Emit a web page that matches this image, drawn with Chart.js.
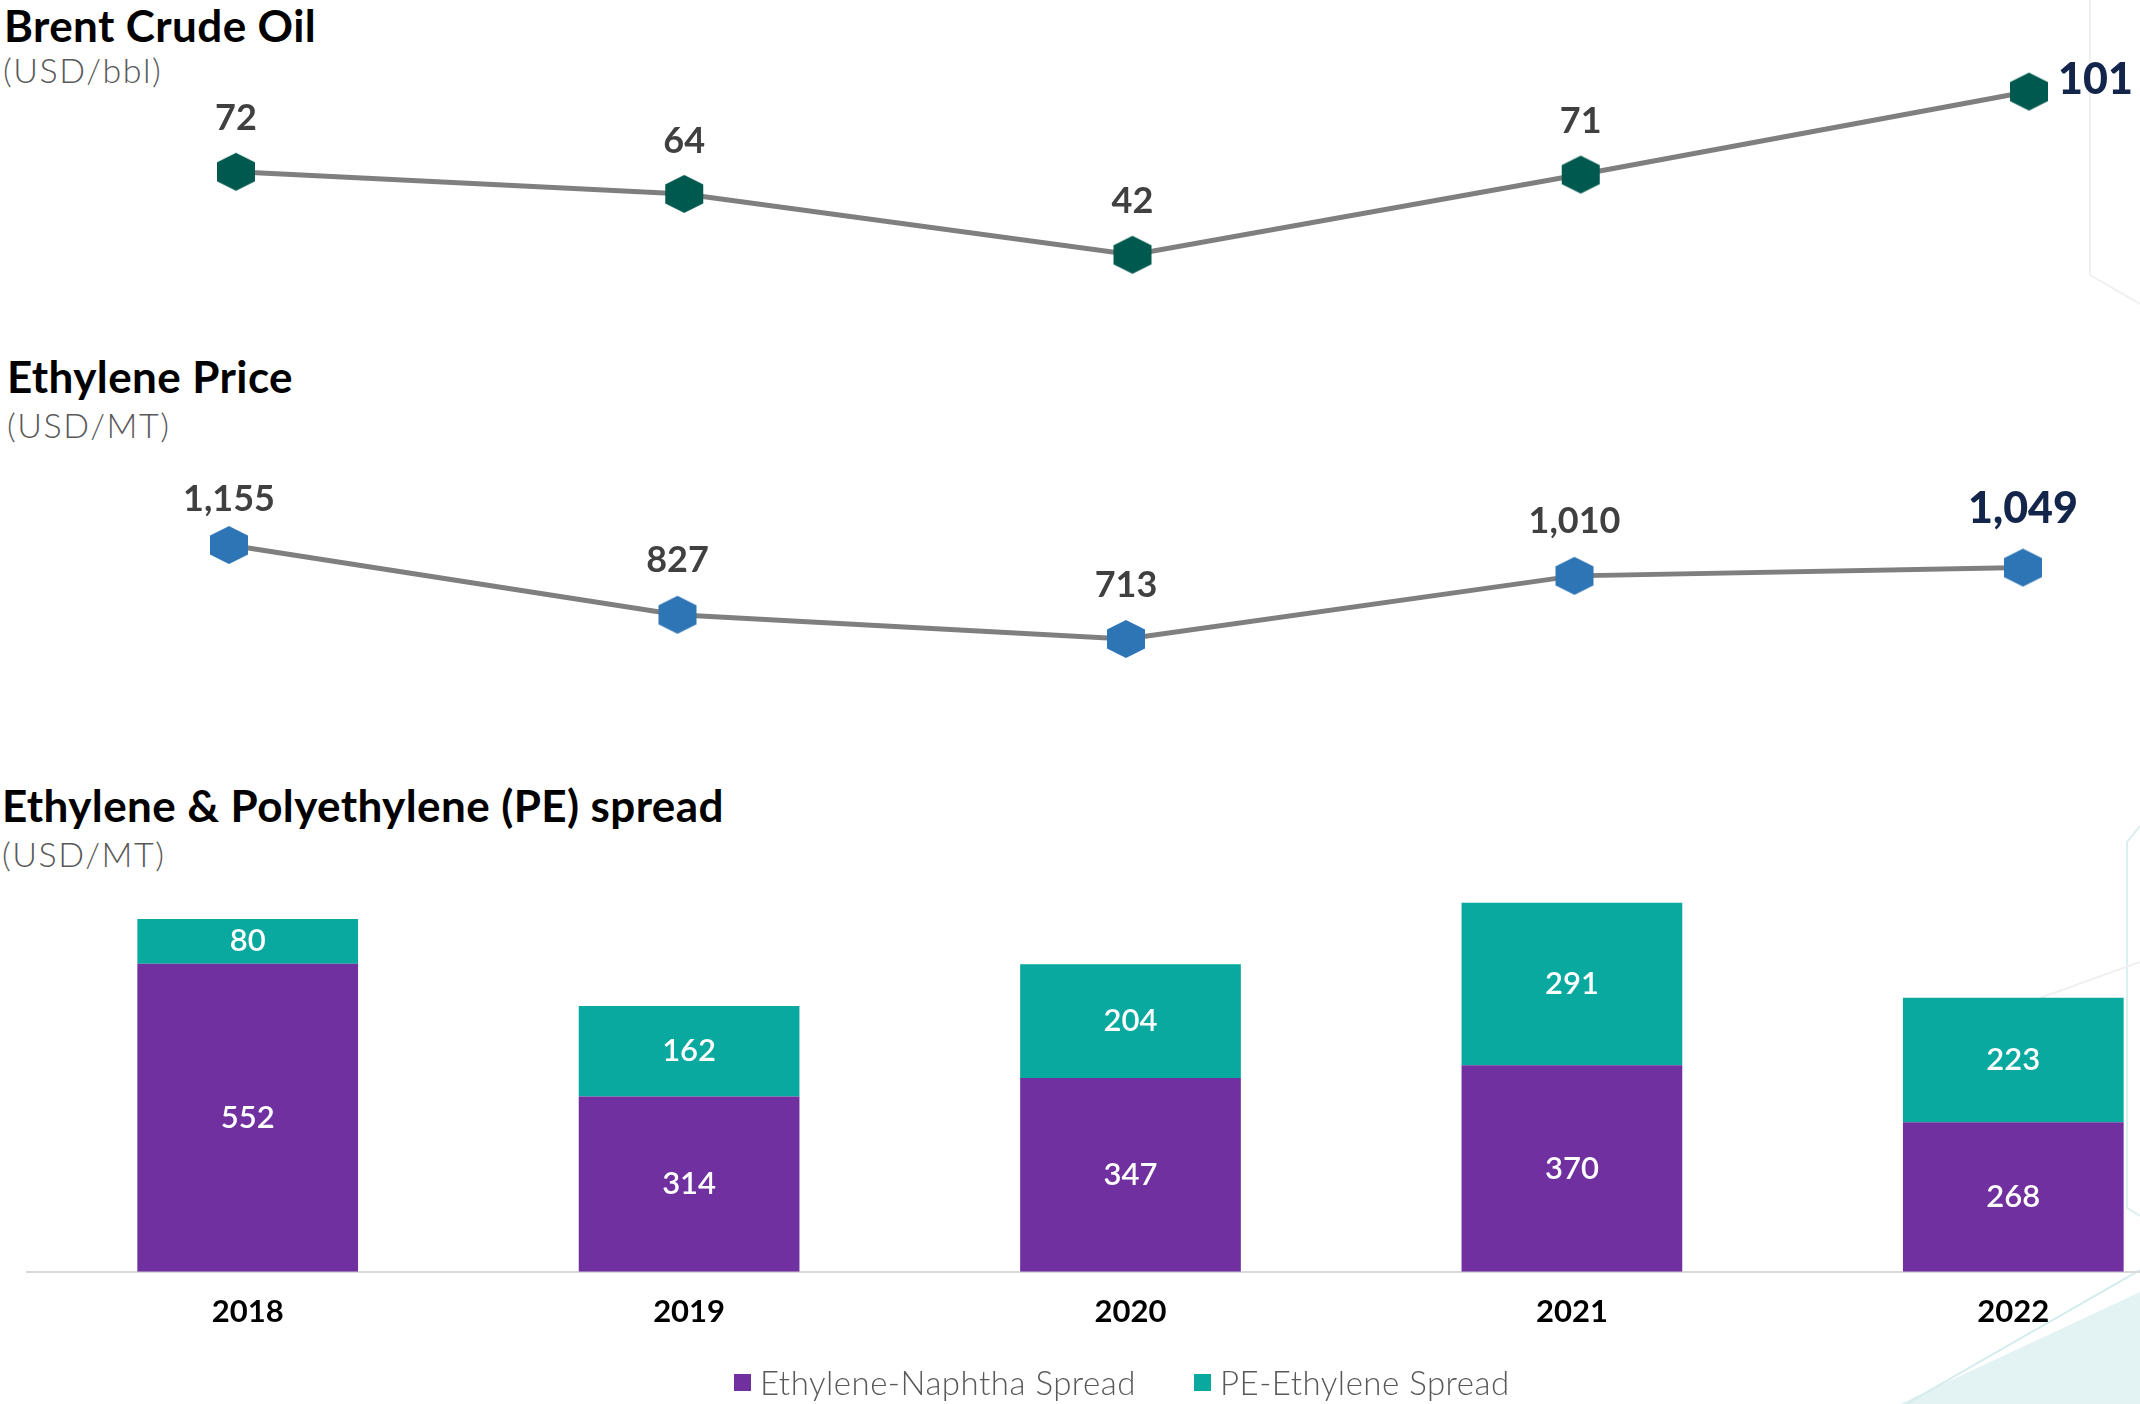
<!DOCTYPE html>
<html>
<head>
<meta charset="utf-8">
<script src="https://cdn.jsdelivr.net/npm/chart.js@4.4.1/dist/chart.umd.min.js"></script>
<style>
html, body { margin: 0; padding: 0; background: #fff; overflow: hidden; width: 2140px; height: 1404px; }
body { position: relative; font-family: Lato, sans-serif; }
#deco { position: absolute; left: 0; top: 0; }
.title { position: absolute; font-weight: 700; font-size: 44px; letter-spacing: 0.4px; line-height: 1; color: #000; white-space: nowrap; }
.unit { position: absolute; font-weight: 300; font-size: 34px; letter-spacing: 1.5px; line-height: 1; color: #595959; white-space: nowrap; }
canvas { position: absolute; left: 0; }
#legend { position: absolute; left: 734px; top: 1362px; display: flex; align-items: center; font-weight: 300; font-size: 33px; letter-spacing: 0.5px; color: #595959; }
#legend span.box { display: inline-block; width: 17px; height: 17px; margin-right: 9px; }
#legend span.item { display: flex; align-items: center; margin-right: 58px; }
</style>
</head>
<body>
<svg id="deco" width="2140" height="1404">
  <polyline points="2090,0 2090,275 2140,304" fill="none" stroke="#f0f0f0" stroke-width="2"/>
  <polyline points="2140,826 2127,842 2127,1208 2140,1216" fill="none" stroke="#dcefef" stroke-width="2"/>
  <line x1="2040" y1="998" x2="2140" y2="962" stroke="#f0f0f0" stroke-width="2"/>
  <polygon points="1900,1404 2140,1292 2140,1404" fill="#e3f3f3"/>
  <line x1="1906" y1="1404" x2="2140" y2="1270" stroke="#d3ecec" stroke-width="2"/>
</svg>

<div class="title" style="left:4px; top:3px">Brent Crude Oil</div>
<div class="unit" style="left:3px; top:53px">(USD/bbl)</div>
<div class="title" style="left:7px; top:354px">Ethylene Price</div>
<div class="unit" style="left:7px; top:408px">(USD/MT)</div>
<div class="title" style="left:2px; top:783px">Ethylene &amp; Polyethylene (PE) spread</div>
<div class="unit" style="left:2px; top:837px">(USD/MT)</div>

<canvas id="brent" width="2240" height="400" style="top:0px"></canvas>
<canvas id="ethylene" width="2240" height="260" style="top:440px"></canvas>
<canvas id="spread" width="2240" height="544" style="top:860px"></canvas>
<div id="legend"></div>

<script>
// data
var years = ['2018', '2019', '2020', '2021', '2022'];
var brentPrice = [72, 64, 42, 71, 101];
var ethylenePrice = [1155, 827, 713, 1010, 1049];
var naphthaSpread = [552, 314, 347, 370, 268];
var peSpread = [80, 162, 204, 291, 223];
var spreadNames = ['Ethylene-Naphtha Spread', 'PE-Ethylene Spread'];
var spreadColors = ['#7030a0', '#0aa99f'];

function hexagon(color) {
    var c = document.createElement('canvas');
    c.width = 40;
    c.height = 40;
    var g = c.getContext('2d');
    g.fillStyle = color;
    g.beginPath();
    g.moveTo(20, 1);
    g.lineTo(39, 10.5);
    g.lineTo(39, 29.5);
    g.lineTo(20, 39);
    g.lineTo(1, 29.5);
    g.lineTo(1, 10.5);
    g.closePath();
    g.fill();
    return c;
}

function fmt(v) {
    return v.toLocaleString('en-US');
}

// value labels over the line points, last one bigger and navy
var pointLabels = {
    id: 'pointLabels',
    afterDatasetsDraw: function (chart, args, opts) {
        var ctx = chart.ctx;
        var pts = chart.getDatasetMeta(0).data;
        var values = chart.data.datasets[0].data;
        ctx.save();
        ctx.textBaseline = 'middle';
        for (var i = 0; i < pts.length; i++) {
            var last = i === pts.length - 1;
            if (last) {
                ctx.font = '900 43px Lato';
                ctx.fillStyle = '#13254a';
                if (opts.lastRight) {
                    ctx.textAlign = 'left';
                    ctx.fillText(fmt(values[i]), pts[i].x + 29, pts[i].y - 11);
                } else {
                    ctx.textAlign = 'center';
                    ctx.fillText(fmt(values[i]), pts[i].x, pts[i].y - opts.offsets[i]);
                }
            } else {
                ctx.font = '700 36px Lato';
                ctx.fillStyle = '#404040';
                ctx.textAlign = 'center';
                ctx.fillText(fmt(values[i]), pts[i].x, pts[i].y - opts.offsets[i]);
            }
        }
        ctx.restore();
    }
};

// white numbers in the middle of each bar segment
var barLabels = {
    id: 'barLabels',
    afterDatasetsDraw: function (chart) {
        var ctx = chart.ctx;
        ctx.save();
        ctx.font = '600 31px Lato';
        ctx.fillStyle = '#fff';
        ctx.textAlign = 'center';
        ctx.textBaseline = 'middle';
        chart.data.datasets.forEach(function (ds, d) {
            chart.getDatasetMeta(d).data.forEach(function (bar, i) {
                ctx.fillText(fmt(ds.data[i]), bar.x, (bar.y + bar.base) / 2);
            });
        });
        ctx.restore();
    }
};

function lineChart(id, values, color, yMin, yMax, pad, labelOpts) {
    return new Chart(document.getElementById(id), {
        type: 'line',
        data: {
            labels: years,
            datasets: [{
                data: values,
                borderColor: '#7f7f7f',
                borderWidth: 5,
                tension: 0,
                pointStyle: hexagon(color),
                pointRadius: 19,
                clip: false
            }]
        },
        options: {
            responsive: false,
            animation: false,
            layout: { padding: pad },
            plugins: { legend: { display: false }, tooltip: { enabled: false }, pointLabels: labelOpts },
            scales: {
                x: { display: false, offset: false },
                y: { display: false, min: yMin, max: yMax }
            }
        },
        plugins: [pointLabels]
    });
}

lineChart('brent', brentPrice, '#00594f', 0, 120,
    { left: 236, right: 211, top: 39, bottom: 29 },
    { offsets: [53, 53, 53, 53], lastRight: true });

lineChart('ethylene', ethylenePrice, '#2e75b6', 600, 1400,
    { left: 229, right: 217, top: 53, bottom: 37 },
    { offsets: [46, 54, 54, 54, 58] });

new Chart(document.getElementById('spread'), {
    type: 'bar',
    data: {
        labels: years,
        datasets: [
            { label: spreadNames[0], data: naphthaSpread, backgroundColor: spreadColors[0] },
            { label: spreadNames[1], data: peSpread, backgroundColor: spreadColors[1] }
        ]
    },
    options: {
        responsive: false,
        animation: false,
        layout: { padding: { left: 27, right: 6, top: 21, bottom: 51 } },
        datasets: { bar: { barPercentage: 0.5, categoryPercentage: 1 } },
        plugins: { legend: { display: false }, tooltip: { enabled: false } },
        scales: {
            x: {
                stacked: true,
                grid: { display: false, drawTicks: false },
                border: { display: true, color: '#d9d9d9', width: 2 },
                ticks: { color: '#000', font: { family: 'Lato', size: 31, weight: 700 }, padding: 22 }
            },
            y: { stacked: true, display: false, min: 0, max: 700 }
        }
    },
    plugins: [barLabels]
});

var legend = document.getElementById('legend');
spreadNames.forEach(function (name, i) {
    var item = document.createElement('span');
    item.className = 'item';
    item.innerHTML = '<span class="box" style="background:' + spreadColors[i] + '"></span>' + name;
    legend.appendChild(item);
});
</script>
</body>
</html>
